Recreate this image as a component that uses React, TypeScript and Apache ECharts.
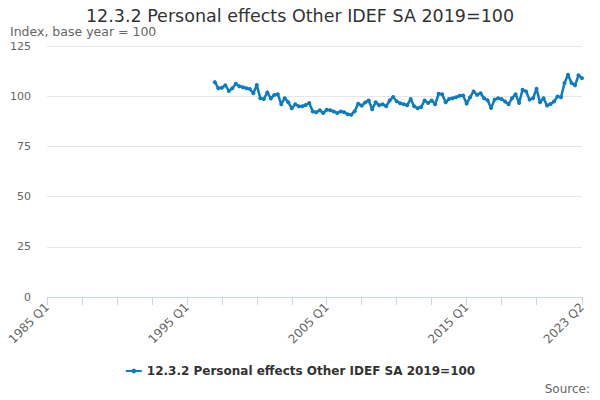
import React, { useEffect, useRef } from "react";
import * as echarts from "echarts";

const startYear = 1985;
const quarterCount = 154; // 1985 Q1 .. 2023 Q2
const categories: string[] = [];
for (let i = 0; i < quarterCount; i++) {
  categories.push(`${startYear + Math.floor(i / 4)} Q${(i % 4) + 1}`);
}

// first observation: 1997 Q1
const firstDataIndex = 48;
const seriesValues: number[] = [
  107, 104, 104.2, 105.5, 102.6, 104, 106.2, 105, 104.5, 104,
  103.6, 101.5, 105.6, 99, 98.6, 101.9, 98.9, 100.6, 101, 96,
  99, 97, 94, 96, 95, 95, 95.6, 96.6, 92.4, 92,
  93, 91.6, 93.3, 93, 92.4, 91.6, 92.4, 92, 91, 90.8,
  92.5, 96.3, 95.3, 96.9, 97.9, 93.5, 97, 95.5, 96, 95,
  97.9, 99.6, 97.5, 96.5, 96, 95.5, 98.6, 95, 94, 94.6,
  97.9, 96.6, 97.9, 96, 101.2, 101, 97, 98.6, 99, 99.5,
  100.2, 100.4, 96.3, 99.5, 102.4, 100.7, 101.5, 99, 98, 94.1,
  98.3, 99, 98.6, 97.4, 96, 99, 101, 96.6, 103.2, 102.4,
  98.3, 99, 103.7, 97, 99, 95.4, 96.1, 97.4, 99.9, 99.5,
  106.6, 110.7, 106.6, 105.4, 110.4, 109,
];

const yTicks = [0, 25, 50, 75, 100, 125];
const seriesName = "12.3.2 Personal effects Other IDEF SA 2019=100";
const lineColor = "#0b7cc1";

export default function App() {
  const ref = useRef<HTMLDivElement>(null);
  useEffect(() => {
    if (!ref.current) return;
    const chart = echarts.init(ref.current, null, { renderer: "svg" });
    const data: (number | string)[] = categories.map((_, i) =>
      i >= firstDataIndex && i - firstDataIndex < seriesValues.length
        ? seriesValues[i - firstDataIndex]
        : "-"
    );
    const last = categories.length - 1;
    chart.setOption({
      animation: false,
      textStyle: { fontFamily: "DejaVu Sans" },
      title: [
        {
          text: seriesName,
          left: "center",
          top: 7,
          padding: 0,
          textStyle: { fontSize: 17.5, fontWeight: "normal", color: "#333333", fontFamily: "DejaVu Sans" },
        },
        {
          text: "Index, base year = 100",
          left: 10,
          top: 25,
          padding: 0,
          textStyle: { fontSize: 12.5, fontWeight: "normal", color: "#666666", fontFamily: "DejaVu Sans" },
        },
        {
          text: "Source:",
          right: 10,
          top: 383,
          padding: 0,
          textStyle: { fontSize: 12, fontWeight: "normal", color: "#666666", fontFamily: "DejaVu Sans" },
        },
      ],
      legend: {
        bottom: 18,
        left: "center",
        itemWidth: 16,
        itemHeight: 6,
        textStyle: { fontSize: 12, fontWeight: "bold", color: "#333333", fontFamily: "DejaVu Sans" },
        data: [seriesName],
      },
      grid: { left: 47, right: 18, top: 46, bottom: 103, containLabel: false },
      xAxis: {
        type: "category",
        data: categories,
        boundaryGap: false,
        axisLine: { lineStyle: { color: "#ccd6eb" } },
        axisTick: {
          length: 8,
          lineStyle: { color: "#ccd6eb" },
          interval: (index: number) => (index % 10 === 0 && index <= 140) || index === last,
        },
        axisLabel: {
          rotate: 45,
          color: "#666666",
          fontSize: 12,
          margin: 8,
          interval: (index: number) => index % 40 === 0 || index === last,
        },
        splitLine: { show: false },
      },
      yAxis: {
        type: "value",
        min: yTicks[0],
        max: yTicks[yTicks.length - 1],
        interval: 25,
        axisLine: { show: false },
        axisTick: { show: false },
        axisLabel: { color: "#666666", fontSize: 11, margin: 16 },
        splitLine: { lineStyle: { color: "#e6e6e6" } },
      },
      series: [
        {
          name: seriesName,
          type: "line",
          data,
          color: lineColor,
          lineStyle: { width: 2.5, color: lineColor },
          symbol: "circle",
          symbolSize: 4,
          showSymbol: true,
          showAllSymbol: true,
          itemStyle: { color: lineColor },
        },
      ],
    });
    return () => chart.dispose();
  }, []);
  return (
    <div
      ref={ref}
      style={{ position: "fixed", left: 0, top: 0, width: 600, height: 400, background: "#ffffff" }}
    />
  );
}
